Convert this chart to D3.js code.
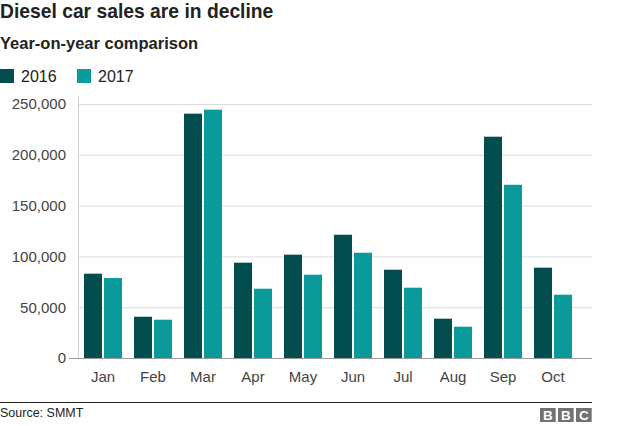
<!DOCTYPE html>
<html>
<head>
<meta charset="utf-8">
<script src="https://cdn.jsdelivr.net/npm/d3@7"></script>
<style>
  body { margin: 0; background: #fff; }
  text { font-family: "Liberation Sans", Arial, Helvetica, sans-serif; }
</style>
</head>
<body>
<script>
const months = ['Jan','Feb','Mar','Apr','May','Jun','Jul','Aug','Sep','Oct'];
const years = ['2016','2017'];
const sales2016 = [83000, 40600, 240500, 93800, 101700, 121300, 86900, 38700, 217800, 88900];
const sales2017 = [78700, 37700, 244400, 68200, 82000, 103600, 69200, 30800, 170500, 62300];
const yTicks = [0, 50000, 100000, 150000, 200000, 250000];
const colors = ['#034d4e', '#0a9a9a'];

const width = 624, height = 426;
const svg = d3.select('body').append('svg')
    .attr('width', width)
    .attr('height', height);

// titles
svg.append('text').attr('x', 0).attr('y', 17.5)
    .attr('font-size', 19.3).attr('font-weight', 'bold').attr('fill', '#222')
    .text('Diesel car sales are in decline');
svg.append('text').attr('x', 0).attr('y', 48.5)
    .attr('font-size', 16.5).attr('font-weight', 'bold').attr('fill', '#222')
    .text('Year-on-year comparison');

// legend
const legend = svg.selectAll('.legend').data(years).enter().append('g')
    .attr('transform', (d, i) => `translate(${i * 77},69)`);
legend.append('rect').attr('width', 14).attr('height', 14)
    .attr('fill', (d, i) => colors[i]);
legend.append('text').attr('x', 21).attr('y', 13)
    .attr('font-size', 16).attr('fill', '#222').text(d => d);

// scales
const x = d3.scaleBand().domain(months).range([78, 578])
    .paddingInner(0.24).paddingOuter(0.12);
const xSub = d3.scaleBand().domain(years).range([0, x.bandwidth()]).paddingInner(0.1);
const y = d3.scaleLinear().domain([0, 250000]).range([358, 104]);

// gridlines
svg.append('g').selectAll('line').data(yTicks.slice(1)).enter().append('line')
    .attr('x1', 78).attr('x2', 592)
    .attr('y1', d => y(d) + 0.5).attr('y2', d => y(d) + 0.5)
    .attr('stroke', '#dcdcdc');

// left axis line
svg.append('line').attr('x1', 78.5).attr('x2', 78.5).attr('y1', 96).attr('y2', 358)
    .attr('stroke', '#d0d0d0');

// y axis labels
const yAxis = svg.append('g').attr('transform', 'translate(78,0)')
    .call(d3.axisLeft(y).tickValues(yTicks).tickFormat(d3.format(',')).tickSize(9).tickPadding(3));
yAxis.select('.domain').remove();
yAxis.selectAll('.tick line').attr('stroke', d => d === 0 ? '#999' : 'none');
yAxis.selectAll('.tick text').attr('font-size', 15).attr('fill', '#444')
    .attr('font-family', '"Liberation Sans", Arial, sans-serif');

// bars
const groups = svg.append('g').selectAll('g').data(months).enter().append('g')
    .attr('transform', d => `translate(${x(d)},0)`);
groups.selectAll('rect')
    .data((d, i) => [sales2016[i], sales2017[i]].map((v, j) => ({ key: years[j], v: v, c: colors[j] })))
    .enter().append('rect')
    .attr('x', d => xSub(d.key))
    .attr('width', xSub.bandwidth())
    .attr('y', d => y(d.v))
    .attr('height', d => y(0) - y(d.v))
    .attr('fill', d => d.c);

// x baseline
svg.append('line').attr('x1', 78).attr('x2', 592).attr('y1', 358.5).attr('y2', 358.5)
    .attr('stroke', '#999');

// x labels
svg.append('g').selectAll('text').data(months).enter().append('text')
    .attr('x', d => x(d) + x.bandwidth() / 2)
    .attr('y', 382)
    .attr('text-anchor', 'middle')
    .attr('font-size', 15).attr('fill', '#444')
    .text(d => d);

// footer
svg.append('line').attr('x1', 0).attr('x2', 592).attr('y1', 402.5).attr('y2', 402.5)
    .attr('stroke', '#222');
svg.append('text').attr('x', 0).attr('y', 417)
    .attr('font-size', 12.5).attr('fill', '#222').text('Source: SMMT');

const bbc = svg.append('g').attr('transform', 'translate(540,408)');
['B', 'B', 'C'].forEach((l, i) => {
  bbc.append('rect').attr('x', i * 18).attr('width', 15.7).attr('height', 14).attr('fill', '#727272');
  bbc.append('text').attr('x', i * 18 + 7.85).attr('y', 12.3).attr('text-anchor', 'middle')
      .attr('font-size', 13.5).attr('font-weight', 'bold').attr('fill', '#fff').text(l);
});
</script>
</body>
</html>
